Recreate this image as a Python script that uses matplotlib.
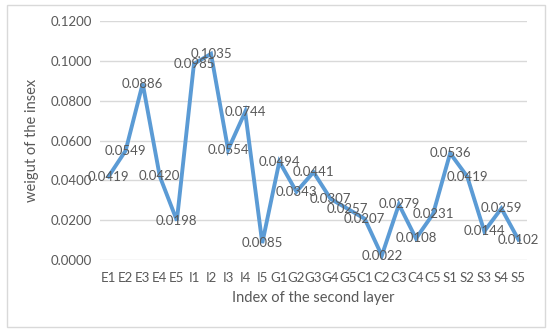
import matplotlib.pyplot as plt
from matplotlib.patches import Rectangle

categories = ['E1', 'E2', 'E3', 'E4', 'E5', 'I1', 'I2', 'I3', 'I4', 'I5',
              'G1', 'G2', 'G3', 'G4', 'G5', 'C1', 'C2', 'C3', 'C4', 'C5',
              'S1', 'S2', 'S3', 'S4', 'S5']
weights = [0.0419, 0.0549, 0.0886, 0.0420, 0.0198, 0.0985, 0.1035, 0.0554, 0.0744, 0.0085,
           0.0494, 0.0343, 0.0441, 0.0307, 0.0257, 0.0207, 0.0022, 0.0279, 0.0108, 0.0231,
           0.0536, 0.0419, 0.0144, 0.0259, 0.0102]
yticks = [0.0, 0.02, 0.04, 0.06, 0.08, 0.10, 0.12]

plt.rcParams['font.family'] = ['Lato', 'DejaVu Sans']
grey = '#595959'

W, H = 550, 332
fig = plt.figure(figsize=(5.5, 3.32), dpi=100)
ax = fig.add_axes([100 / W, 1 - 260 / H, 427 / W, 239 / H])

# outer chart border
fig.patches.append(Rectangle((7 / W, 5 / H), 538 / W, 322 / H, transform=fig.transFigure,
                             fill=False, edgecolor='#d9d9d9', linewidth=1))

x = list(range(len(categories)))
ax.plot(x, weights, color='#5b9bd5', linewidth=2.8, solid_joinstyle='miter')

for xi, w in zip(x, weights):
    ax.text(xi, w, f'{w:.4f}', ha='center', va='center', fontsize=9.5, color=grey)

ax.set_xlim(-0.5, len(categories) - 0.5)
ax.set_ylim(0, 0.12)
ax.set_yticks(yticks)
ax.set_yticklabels([f'{v:.4f}' for v in yticks])
ax.set_xticks(x)
ax.set_xticklabels(categories)
ax.tick_params(length=0, labelsize=9.5, colors=grey, pad=6)
ax.tick_params(axis='x', pad=9)
ax.grid(axis='y', color='#d9d9d9', linewidth=1)
ax.set_axisbelow(True)
for s in ax.spines.values():
    s.set_visible(False)

ax.set_xlabel('Index of the second layer', fontsize=10.5, color=grey, labelpad=5)
ax.set_ylabel('weigut of the insex', fontsize=10.5, color=grey, labelpad=8)

fig.savefig('out.png', dpi=100)
